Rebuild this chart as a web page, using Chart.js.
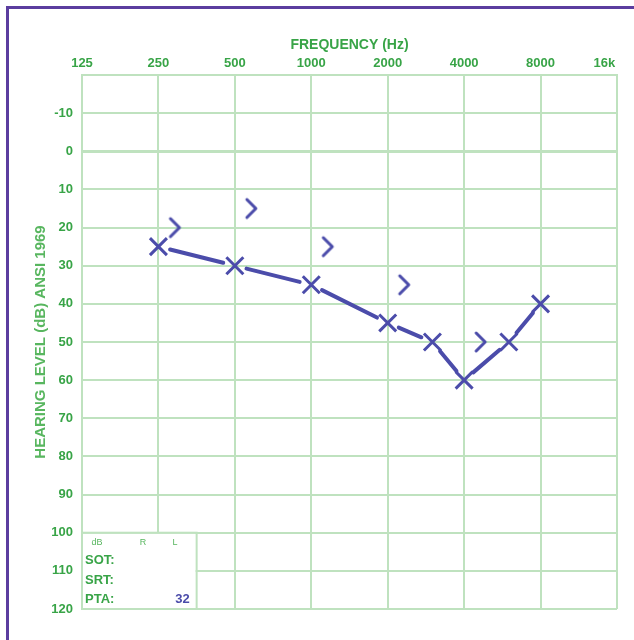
<!DOCTYPE html>
<html><head><meta charset="utf-8">
<style>
html,body{margin:0;padding:0;background:#fff;}
#wrap{position:relative;width:634px;height:640px;overflow:hidden;background:#fff;}
#frame{position:absolute;left:6px;top:6px;width:700px;height:700px;border-left:3px solid #5b3d9f;border-top:3px solid #5b3d9f;}
canvas{position:absolute;left:0;top:0;}
</style>
<script src="https://cdn.jsdelivr.net/npm/chart.js@4.4.0/dist/chart.umd.min.js"></script>
</head><body>
<div id="wrap"><div id="frame"></div><canvas id="c" width="634" height="640"></canvas></div>
<script>
// ---- data ----
const freqTicks  = [125, 250, 500, 1000, 2000, 4000, 8000, 16000];
const freqLabels = ['125', '250', '500', '1000', '2000', '4000', '8000', '16k'];
const hlTicks    = [-10, 0, 10, 20, 30, 40, 50, 60, 70, 80, 90, 100, 110, 120];
const airFreqs   = [250, 500, 1000, 2000, 3000, 4000, 6000, 8000];
const airLeft    = [25, 30, 35, 45, 50, 60, 50, 40];
const boneFreqs  = [250, 500, 1000, 2000, 4000];
const boneLeft   = [20, 15, 25, 35, 50];
const tableRows  = ['SOT:', 'SRT:', 'PTA:'];
const tableHead  = ['dB', 'R', 'L'];
const ptaLeft    = '32';

const GREEN = '#38a447', TITLEGREEN = '#58b65f', GRID = '#bfe2bf', BLUE = '#4b4caa';
const FONT = "'Liberation Sans', Arial, sans-serif";

// bone-conduction ">" glyph, drawn to the right of its frequency
function chevron() {
  const c = document.createElement('canvas');
  c.width = 50; c.height = 28;
  const g = c.getContext('2d');
  g.strokeStyle = BLUE; g.lineWidth = 3; g.lineCap = 'round'; g.lineJoin = 'round';
  g.beginPath(); g.moveTo(37, 5); g.lineTo(46, 14); g.lineTo(37, 23); g.stroke();
  return c;
}

const segPlugin = {
  id: 'segs',
  beforeDatasetsDraw(chart) {
    const { ctx, scales: { x, y } } = chart;
    // table box in lower-left corner
    const l = x.getPixelForValue(freqTicks[0]);
    const r = x.getPixelForValue(Math.sqrt(freqTicks[1] * freqTicks[2]));
    const t = y.getPixelForValue(hlTicks[11]);
    const b = y.getPixelForValue(hlTicks[13]);
    ctx.save();
    ctx.fillStyle = '#fff';
    ctx.fillRect(l + 1, t + 1, r - l - 2, b - t - 2);
    ctx.strokeStyle = GRID; ctx.lineWidth = 2;
    ctx.strokeRect(l, t, r - l, b - t);
    ctx.textBaseline = 'middle';
    ctx.fillStyle = TITLEGREEN;
    ctx.font = "9px " + FONT;
    ctx.textAlign = 'center';
    ctx.fillText(tableHead[0], l + 15, t + 10);
    ctx.fillText(tableHead[1], l + 61, t + 10);
    ctx.fillText(tableHead[2], l + 93, t + 10);
    ctx.fillStyle = GREEN;
    ctx.font = "bold 13px " + FONT;
    ctx.textAlign = 'left';
    tableRows.forEach((s, i) => ctx.fillText(s, l + 3, t + 28 + i * 19.5));
    ctx.fillStyle = BLUE;
    ctx.textAlign = 'right';
    ctx.fillText(ptaLeft, r - 7, t + 67);
    // air-conduction connecting segments with gaps at markers
    const pts = chart.getDatasetMeta(0).data;
    const gap = 12;
    ctx.strokeStyle = BLUE; ctx.lineWidth = 4; ctx.lineCap = 'round';
    for (let i = 0; i < pts.length - 1; i++) {
      const a = pts[i], c = pts[i + 1];
      const dx = c.x - a.x, dy = c.y - a.y, d = Math.hypot(dx, dy);
      const ux = dx / d, uy = dy / d;
      ctx.beginPath();
      ctx.moveTo(a.x + ux * gap, a.y + uy * gap);
      ctx.lineTo(c.x - ux * gap, c.y - uy * gap);
      ctx.stroke();
    }
    ctx.restore();
  }
};

new Chart(document.getElementById('c'), {
  type: 'scatter',
  data: {
    datasets: [
      {
        label: 'Air L',
        data: airFreqs.map((f, i) => ({ x: f, y: airLeft[i] })),
        pointStyle: 'crossRot', pointRadius: 12, pointBorderWidth: 3,
        borderColor: BLUE, pointBorderColor: BLUE, backgroundColor: BLUE, showLine: false
      },
      {
        label: 'Bone L',
        data: boneFreqs.map((f, i) => ({ x: f, y: boneLeft[i] })),
        pointStyle: chevron(), pointRadius: 10, showLine: false
      }
    ]
  },
  options: {
    responsive: false, animation: false, events: [],
    layout: { padding: { left: 0, right: 17, top: 0, bottom: 31 } },
    plugins: { legend: { display: false }, tooltip: { enabled: false } },
    scales: {
      x: {
        type: 'logarithmic', position: 'top', min: freqTicks[0], max: freqTicks[freqTicks.length - 1],
        afterBuildTicks: s => { s.ticks = freqTicks.map(v => ({ value: v })); },
        afterFit: s => { s.height = 75; s.paddingLeft = 0; s.paddingRight = 0; },
        ticks: {
          autoSkip: false, maxRotation: 0, padding: 4, color: GREEN,
          font: { family: FONT, size: 13, weight: 'bold' },
          callback: v => {
            const i = freqTicks.indexOf(v);
            if (i < 0) return '';
            return i === freqTicks.length - 1 ? freqLabels[i] + '       ' : freqLabels[i];
          }
        },
        grid: { color: GRID, lineWidth: 2, drawTicks: false },
        border: { color: GRID, width: 2 },
        title: {
          display: true, text: 'FREQUENCY (Hz)', color: GREEN,
          font: { family: FONT, size: 14, weight: 'bold' }, padding: { top: 37, bottom: 0 }
        }
      },
      y: {
        type: 'linear', reverse: true, min: -20, max: 120,
        afterBuildTicks: s => { s.ticks = [{ value: -20 }].concat(hlTicks.map(v => ({ value: v }))); },
        afterFit: s => { s.width = 82; },
        ticks: {
          padding: 9, color: GREEN, autoSkip: false,
          font: { family: FONT, size: 13, weight: 'bold' },
          callback: v => hlTicks.includes(v) ? String(v) : ''
        },
        grid: { color: GRID, lineWidth: c => (c.tick && c.tick.value === 0 ? 3 : 2), drawTicks: false },
        border: { color: GRID, width: 2 },
        title: {
          display: true, text: 'HEARING LEVEL (dB) ANSI 1969', color: TITLEGREEN,
          font: { family: FONT, size: 15, weight: 'bold' }, padding: { top: 32, bottom: 0 }
        }
      }
    }
  },
  plugins: [segPlugin]
});
</script>
</body></html>
